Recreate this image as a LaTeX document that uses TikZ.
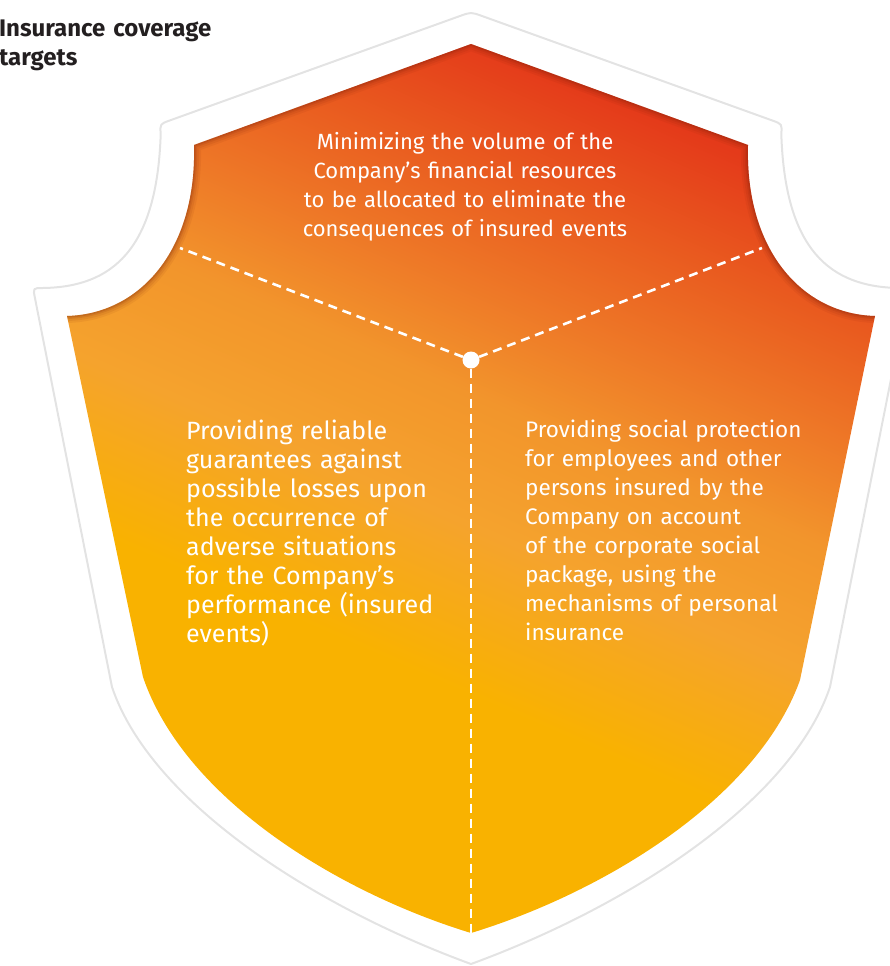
\documentclass[tikz,border=0pt]{standalone}
\usepackage{fontspec}
\setmainfont{Fira Sans}
\definecolor{cYel}{HTML}{F9B200}
\definecolor{cLor}{HTML}{F5A32D}
\definecolor{cMor}{HTML}{F2952C}
\definecolor{cOra}{HTML}{EE7827}
\definecolor{cRor}{HTML}{E95A1F}
\definecolor{cRed}{HTML}{E43A1A}
\definecolor{cShadow}{HTML}{7A1E08}
\definecolor{cOutline}{HTML}{E3E3E3}
\definecolor{cTitle}{HTML}{231F20}
\pgfdeclareverticalshading{shieldgrad}{100bp}{color(0bp)=(cYel); color(39bp)=(cYel); color(48bp)=(cLor); color(55bp)=(cMor); color(61bp)=(cOra); color(67.5bp)=(cRor); color(74bp)=(cRed); color(100bp)=(cRed)}
\tikzset{
  outline/.style={draw=cOutline, line width=2pt, line join=round},
  shadowline/.style={draw=cShadow, line join=round},
  dashline/.style={draw=white, line width=2.6pt, dash pattern=on 9pt off 6pt},
  centerdot/.style={circle, fill=white, minimum size=17pt, inner sep=0pt},
  bodytext/.style={text=white, inner sep=0pt},
  titletext/.style={text=cTitle, inner sep=0pt, font=\bfseries\fontsize{24}{29}\selectfont, align=left, text width=300pt}
}
\begin{document}
\begin{tikzpicture}[x=1pt,y=-1pt]
\useasboundingbox (0,0) rectangle (890,966);
% outer outline
\draw[outline] (169.4,120.6) -- (459.7,16.1) .. controls (471,12) .. (482.3,16.1)
  -- (772.6,120.6) .. controls (782,124) .. (781.3,134)
  .. controls (785,250) and (830,287) .. (899,288)
  .. controls (909,288) .. (907.1,297.8)
  -- (830,687) .. controls (792,800) and (632,905) .. (471,964)
  .. controls (310,905) and (150,800) .. (112,687)
  -- (34.9,297.8) .. controls (33,288) .. (43,288)
  .. controls (112,287) and (157,250) .. (160.7,134)
  .. controls (160,124) .. (169.4,120.6) -- cycle;
% inner shield
\path[shading=shieldgrad, shading angle=-23.5]
  (471,44) -- (748,145) .. controls (745,250) and (802,314) .. (875,316)
  -- (800,680) .. controls (757,800) and (602,893) .. (471,933)
  .. controls (340,893) and (185,800) .. (143,677)
  -- (67,316) .. controls (140,314) and (197,250) .. (194,145) -- cycle;
% inner shadow along the upper edges
\begin{scope}
  \clip (471,44) -- (748,145) .. controls (745,250) and (802,314) .. (875,316)
  -- (800,680) .. controls (757,800) and (602,893) .. (471,933)
  .. controls (340,893) and (185,800) .. (143,677)
  -- (67,316) .. controls (140,314) and (197,250) .. (194,145) -- cycle;
  \foreach \w/\o in {14/0.07, 10/0.09, 6/0.12, 3/0.18}{
    \draw[shadowline, line width=\w pt, opacity=\o]
      (60,316) -- (67,316) .. controls (140,314) and (197,250) .. (194,145)
      -- (471,44) -- (748,145) .. controls (745,250) and (802,314) .. (875,316) -- (882,316);
  }
\end{scope}
% centre and connectors
\node[centerdot] (c) at (471,360) {};
\coordinate (dl) at (180,248);
\coordinate (dr) at (762,248);
\coordinate (db) at (471,933);
\draw[dashline] (c) -- (dl);
\draw[dashline] (c) -- (dr);
\draw[dashline] (c) -- (db);
% texts
\node[titletext, anchor=base west] (title) at (-1,37) {Insurance coverage\\targets};
\node[bodytext, font=\fontsize{22}{29.3}\selectfont, anchor=base, align=center, text width=420pt] (toptext) at (465,149)
  {Minimizing the volume of the\\Company’s financial resources\\to be allocated to eliminate the\\consequences of insured events};
\node[bodytext, font=\fontsize{25}{29}\selectfont, anchor=base west, align=left, text width=300pt] (lefttext) at (186,439)
  {Providing reliable\\guarantees against\\possible losses upon\\the occurrence of\\adverse situations\\for the Company’s\\performance (insured\\events)};
\node[bodytext, font=\fontsize{22.5}{29}\selectfont, anchor=base west, align=left, text width=330pt] (righttext) at (525,437)
  {Providing social protection\\for employees and other\\persons insured by the\\Company on account\\of the corporate social\\package, using the\\mechanisms of personal\\insurance};
\end{tikzpicture}
\end{document}
